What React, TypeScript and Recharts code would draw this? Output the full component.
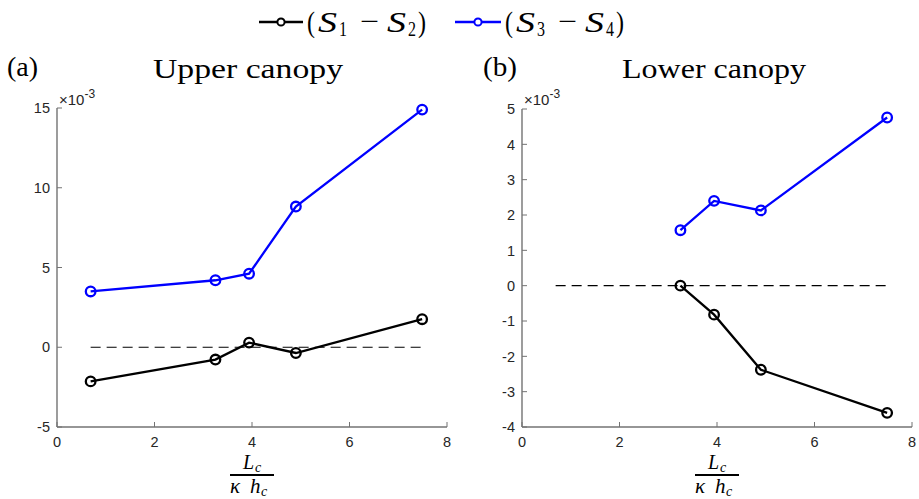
import { LineChart, Line, XAxis, YAxis } from 'recharts';

// values in units of 1e-3
const xUpper = [0.69, 3.25, 3.94, 4.9, 7.49];
const upperS12 = [-2.14, -0.77, 0.29, -0.36, 1.76];
const upperS34 = [3.5, 4.2, 4.61, 8.82, 14.9];

const xLower = [3.25, 3.94, 4.9, 7.49];
const lowerS12 = [0, -0.82, -2.38, -3.6];
const lowerS34 = [1.57, 2.4, 2.13, 4.76];

const zeroLineX = [0.69, 7.49];
const xTicks = [0, 2, 4, 6, 8];
const upperYTicks = [-5, 0, 5, 10, 15];
const lowerYTicks = [-4, -3, -2, -1, 0, 1, 2, 3, 4, 5];

const AXIS = '#737373';
const TICK_TEXT = '#262626';
const SANS = '"Liberation Sans", Arial, sans-serif';
const SERIF = '"Liberation Serif", "Times New Roman", serif';

const YTick = (props: any) => {
    const { x, y, payload } = props;
    return (
        <g>
            <line x1={x} x2={x + 5} y1={y} y2={y} stroke={AXIS} strokeWidth={1} />
            <text x={x - 7} y={y} dy="0.36em" textAnchor="end" fontFamily={SANS} fontSize={14.5} fill={TICK_TEXT}>
                {payload.value}
            </text>
        </g>
    );
};

const XTick = (props: any) => {
    const { x, y, payload } = props;
    return (
        <g>
            <line x1={x} x2={x} y1={y} y2={y - 5} stroke={AXIS} strokeWidth={1} />
            <text x={x} y={y + 19.5} textAnchor="middle" fontFamily={SANS} fontSize={14.5} fill={TICK_TEXT}>
                {payload.value}
            </text>
        </g>
    );
};

type PanelProps = {
    xs: number[];
    s12: number[];
    s34: number[];
    yDomain: [number, number];
    yTicks: number[];
    left: number;
    width: number;
    top: number;
    right: number;
    yAxisWidth: number;
};

function Panel({ xs, s12, s34, yDomain, yTicks, left, width, top, right, yAxisWidth }: PanelProps) {
    const data = xs.map((x, i) => ({ x, s12: s12[i], s34: s34[i] }));
    const zero = zeroLineX.map((x) => ({ x, zero: 0 }));
    return (
        <div style={{ position: 'absolute', left, top: 0 }}>
            <LineChart width={width} height={499} data={data} margin={{ top, right, bottom: 0, left: 0 }}>
                <XAxis
                    dataKey="x"
                    type="number"
                    domain={[0, 8]}
                    ticks={xTicks}
                    interval={0}
                    height={72}
                    tickSize={0}
                    tickMargin={0}
                    tickLine={false}
                    axisLine={{ stroke: AXIS, strokeWidth: 1.4 }}
                    tick={<XTick />}
                />
                <YAxis
                    type="number"
                    domain={yDomain}
                    ticks={yTicks}
                    interval={0}
                    width={yAxisWidth}
                    tickSize={0}
                    tickMargin={0}
                    tickLine={false}
                    axisLine={{ stroke: AXIS, strokeWidth: 1.4 }}
                    tick={<YTick />}
                />
                <Line
                    data={zero}
                    dataKey="zero"
                    stroke="#000"
                    strokeWidth={1.2}
                    strokeDasharray="10 6"
                    dot={false}
                    activeDot={false}
                    isAnimationActive={false}
                />
                <Line
                    dataKey="s12"
                    stroke="#000"
                    strokeWidth={2.3}
                    dot={{ r: 4.8, fill: 'none', stroke: '#000', strokeWidth: 2.3 }}
                    activeDot={false}
                    isAnimationActive={false}
                />
                <Line
                    dataKey="s34"
                    stroke="#0000ff"
                    strokeWidth={2.3}
                    dot={{ r: 4.8, fill: 'none', stroke: '#0000ff', strokeWidth: 2.3 }}
                    activeDot={false}
                    isAnimationActive={false}
                />
            </LineChart>
        </div>
    );
}

// legend label "(S_a − S_b)" drawn piece by piece
function LegendLabel({ x0, a, b }: { x0: number; a: string; b: string }) {
    const y = 32;
    return (
        <g fontFamily={SERIF} fill="#000">
            <text x={x0} y={y} fontSize={29} textLength={8} lengthAdjust="spacingAndGlyphs">(</text>
            <text x={x0 + 11} y={y} fontSize={29} fontStyle="italic" textLength={19} lengthAdjust="spacingAndGlyphs">S</text>
            <text x={x0 + 32} y={y + 4} fontSize={20} textLength={8} lengthAdjust="spacingAndGlyphs">{a}</text>
            <text x={x0 + 53} y={y - 1} fontSize={29} textLength={19} lengthAdjust="spacingAndGlyphs">−</text>
            <text x={x0 + 80} y={y} fontSize={29} fontStyle="italic" textLength={19} lengthAdjust="spacingAndGlyphs">S</text>
            <text x={x0 + 101} y={y + 4} fontSize={20} textLength={8} lengthAdjust="spacingAndGlyphs">{b}</text>
            <text x={x0 + 111} y={y} fontSize={29} textLength={8} lengthAdjust="spacingAndGlyphs">)</text>
        </g>
    );
}

function LegendMarker({ x1, x2, color }: { x1: number; x2: number; color: string }) {
    const cx = (x1 + x2) / 2;
    return (
        <g>
            <line x1={x1} x2={x2} y1={22} y2={22} stroke={color} strokeWidth={2.5} />
            <circle cx={cx} cy={22} r={3.6} fill="#fff" stroke={color} strokeWidth={2} />
        </g>
    );
}

function XLabel({ cx }: { cx: number }) {
    return (
        <g fontFamily={SERIF} fill="#000">
            <text x={cx - 9} y={469} fontSize={20} fontStyle="italic">L</text>
            <text x={cx + 3} y={472} fontSize={14} fontStyle="italic">c</text>
            <line x1={cx - 22} x2={cx + 22} y1={475} y2={475} stroke="#000" strokeWidth={2} />
            <text x={cx - 22} y={493} fontSize={21} fontStyle="italic">κ</text>
            <text x={cx - 2} y={493} fontSize={21} fontStyle="italic">h</text>
            <text x={cx + 9} y={496} fontSize={14} fontStyle="italic">c</text>
        </g>
    );
}

function Multiplier({ x }: { x: number }) {
    return (
        <text x={x} y={104.5} fontFamily={SANS} fontSize={15} fill={TICK_TEXT}>
            ×10
            <tspan dy={-7} fontSize={12}>-3</tspan>
        </text>
    );
}

export default function App() {
    return (
        <div style={{ position: 'absolute', left: 0, top: 0, width: 919, height: 499, background: '#fff', overflow: 'hidden' }}>
            <Panel xs={xUpper} s12={upperS12} s34={upperS34} yDomain={[-5, 15]} yTicks={upperYTicks}
                left={0} width={460} top={108} right={13} yAxisWidth={57} />
            <Panel xs={xLower} s12={lowerS12} s34={lowerS34} yDomain={[-4, 5]} yTicks={lowerYTicks}
                left={464} width={455} top={109} right={7} yAxisWidth={58} />
            <svg width={919} height={499} style={{ position: 'absolute', left: 0, top: 0, pointerEvents: 'none' }}>
                <LegendMarker x1={259} x2={303} color="#000" />
                <LegendLabel x0={307} a="1" b="2" />
                <LegendMarker x1={455} x2={501} color="#0000ff" />
                <LegendLabel x0={505} a="3" b="4" />

                <g fontFamily={SERIF} fill="#000" fontSize={27}>
                    <text x={7} y={76} textLength={31} lengthAdjust="spacingAndGlyphs">(a)</text>
                    <text x={153} y={78} textLength={190} lengthAdjust="spacingAndGlyphs">Upper canopy</text>
                    <text x={483} y={76} textLength={34} lengthAdjust="spacingAndGlyphs">(b)</text>
                    <text x={622} y={78} textLength={184} lengthAdjust="spacingAndGlyphs">Lower canopy</text>
                </g>

                <Multiplier x={59} />
                <Multiplier x={524} />

                <XLabel cx={252} />
                <XLabel cx={717} />
            </svg>
        </div>
    );
}
